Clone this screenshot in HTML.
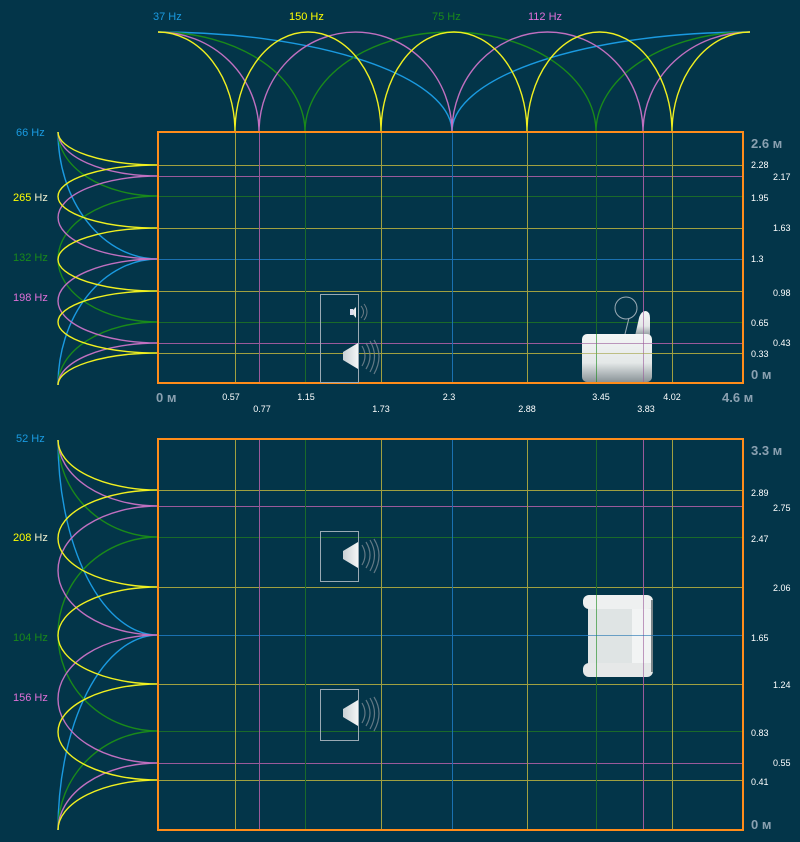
<!DOCTYPE html>
<html><head><meta charset="utf-8"><style>
html,body{margin:0;padding:0;background:#033549;}
svg{display:block}
text{font-family:"Liberation Sans",sans-serif;}
</style></head><body>
<svg width="800" height="842" viewBox="0 0 800 842" xmlns="http://www.w3.org/2000/svg">
<rect width="800" height="842" fill="#033549"/>
<defs>
<linearGradient id="cg" x1="0" y1="0" x2="0" y2="1"><stop offset="0" stop-color="#f4f6f6"/><stop offset="0.6" stop-color="#e4e8e8"/><stop offset="1" stop-color="#8a9498"/></linearGradient>
<linearGradient id="sg" x1="0" y1="0" x2="1" y2="0"><stop offset="0" stop-color="#c8d0d4"/><stop offset="1" stop-color="#f4f6f6"/></linearGradient>
</defs>

<!-- top arcs -->
<g fill="none" stroke-width="1.4">
<path stroke="#1a9ae0" d="M158 32 A294 100 0 0 1 452 132 A298 100 0 0 1 750 32"/>
<path stroke="#1a8a1a" d="M158 32 A147 100 0 0 1 305 132 A145.5 100 0 0 1 596 132 A154 100 0 0 1 750 32"/>
<path stroke="#c070c0" d="M158 32 A101 100 0 0 1 259 132 A96.5 100 0 0 1 452 132 A95.5 100 0 0 1 643 132 A107 100 0 0 1 750 32"/>
<path stroke="#f0f020" d="M158 32 A77 100 0 0 1 235 132 A73 100 0 0 1 381 132 A73 100 0 0 1 527 132 A72.5 100 0 0 1 672 132 A78 100 0 0 1 750 32"/>
</g>
<g font-size="11">
<text x="153" y="20" fill="#1a9ae0">37 Hz</text>
<text x="289" y="20" fill="#ffff00">150 Hz</text>
<text x="432" y="20" fill="#1a8a1a">75 Hz</text>
<text x="528" y="20" fill="#e070d8">112 Hz</text>
</g>

<!-- left top curves -->
<g fill="none" stroke-width="1.4">
<path stroke="#1a9ae0" d="M58 132 A100 127 0 0 0 158 259 A100 126 0 0 0 58 385"/>
<path stroke="#1a8a1a" d="M58 132 A100 64 0 0 0 158 196 A100 63 0 0 0 158 322 A100 63 0 0 0 58 385"/>
<path stroke="#c070c0" d="M58 132 A100 44 0 0 0 158 176 A100 41.5 0 0 0 158 259 A100 42 0 0 0 158 343 A100 42 0 0 0 58 385"/>
<path stroke="#f0f020" d="M58 132 A100 33 0 0 0 158 165 A100 31.5 0 0 0 158 228 A100 31.5 0 0 0 158 291 A100 31 0 0 0 158 353 A100 32 0 0 0 58 385"/>
</g>
<g font-size="11">
<text x="16" y="136" fill="#1a9ae0">66 Hz</text>
<text x="13" y="201" fill="#ffff00">265 <tspan fill="#f0f0d0">Hz</tspan></text>
<text x="13" y="261" fill="#1a8a1a">132 Hz</text>
<text x="13" y="301" fill="#e070d8">198 Hz</text>
</g>

<!-- left bottom curves -->
<g fill="none" stroke-width="1.4">
<path stroke="#1a9ae0" d="M58 440 A100 195 0 0 0 158 635 A100 195 0 0 0 58 830"/>
<path stroke="#1a8a1a" d="M58 440 A100 97 0 0 0 158 537 A100 97 0 0 0 158 731 A100 99 0 0 0 58 830"/>
<path stroke="#c070c0" d="M58 440 A100 66 0 0 0 158 506 A100 64.5 0 0 0 158 635 A100 64 0 0 0 158 763 A100 67 0 0 0 58 830"/>
<path stroke="#f0f020" d="M58 440 A100 50 0 0 0 158 490 A100 48.5 0 0 0 158 587 A100 48.5 0 0 0 158 684 A100 48 0 0 0 158 780 A100 50 0 0 0 58 830"/>
</g>
<g font-size="11">
<text x="16" y="442" fill="#1a9ae0">52 Hz</text>
<text x="13" y="541" fill="#ffff00">208 <tspan fill="#f0f0d0">Hz</tspan></text>
<text x="13" y="641" fill="#1a8a1a">104 Hz</text>
<text x="13" y="701" fill="#e070d8">156 Hz</text>
</g>

<!-- grid lines top panel -->
<g stroke-width="1">
<line x1="158" x2="743" y1="165.5" y2="165.5" stroke="#a0a040"/>
<line x1="158" x2="743" y1="176.5" y2="176.5" stroke="#9a5a9a"/>
<line x1="158" x2="743" y1="196.5" y2="196.5" stroke="#1a6a2a"/>
<line x1="158" x2="743" y1="228.5" y2="228.5" stroke="#a0a040"/>
<line x1="158" x2="743" y1="259.5" y2="259.5" stroke="#1a70b0"/>
<line x1="158" x2="743" y1="291.5" y2="291.5" stroke="#a0a040"/>
<line x1="158" x2="743" y1="322.5" y2="322.5" stroke="#1a6a2a"/>
<line x1="158" x2="743" y1="343.5" y2="343.5" stroke="#9a5a9a"/>
<line x1="158" x2="743" y1="353.5" y2="353.5" stroke="#a0a040"/>
</g>
<g stroke-width="1">
<line x1="158" x2="743" y1="490.5" y2="490.5" stroke="#a0a040"/>
<line x1="158" x2="743" y1="506.5" y2="506.5" stroke="#9a5a9a"/>
<line x1="158" x2="743" y1="537.5" y2="537.5" stroke="#1a6a2a"/>
<line x1="158" x2="743" y1="587.5" y2="587.5" stroke="#a0a040"/>
<line x1="158" x2="743" y1="635.5" y2="635.5" stroke="#1a70b0"/>
<line x1="158" x2="743" y1="684.5" y2="684.5" stroke="#a0a040"/>
<line x1="158" x2="743" y1="731.5" y2="731.5" stroke="#1a6a2a"/>
<line x1="158" x2="743" y1="763.5" y2="763.5" stroke="#9a5a9a"/>
<line x1="158" x2="743" y1="780.5" y2="780.5" stroke="#a0a040"/>
</g>
<!-- vertical lines -->
<g stroke-width="1">
<g id="vl">
<line x1="235.5" x2="235.5" y1="132" y2="383" stroke="#a0a040"/>
<line x1="259.5" x2="259.5" y1="132" y2="383" stroke="#9a5a9a"/>
<line x1="305.5" x2="305.5" y1="132" y2="383" stroke="#1a6a2a"/>
<line x1="381.5" x2="381.5" y1="132" y2="383" stroke="#a0a040"/>
<line x1="452.5" x2="452.5" y1="132" y2="383" stroke="#1a70b0"/>
<line x1="527.5" x2="527.5" y1="132" y2="383" stroke="#a0a040"/>
<line x1="596.5" x2="596.5" y1="132" y2="383" stroke="#1a6a2a"/>
<line x1="643.5" x2="643.5" y1="132" y2="383" stroke="#9a5a9a"/>
<line x1="672.5" x2="672.5" y1="132" y2="383" stroke="#a0a040"/>
</g>
<line x1="235.5" x2="235.5" y1="440" y2="830" stroke="#a0a040"/>
<line x1="259.5" x2="259.5" y1="440" y2="830" stroke="#9a5a9a"/>
<line x1="305.5" x2="305.5" y1="440" y2="830" stroke="#1a6a2a"/>
<line x1="381.5" x2="381.5" y1="440" y2="830" stroke="#a0a040"/>
<line x1="452.5" x2="452.5" y1="440" y2="830" stroke="#1a70b0"/>
<line x1="527.5" x2="527.5" y1="440" y2="830" stroke="#a0a040"/>
<line x1="596.5" x2="596.5" y1="440" y2="830" stroke="#1a6a2a"/>
<line x1="643.5" x2="643.5" y1="440" y2="830" stroke="#9a5a9a"/>
<line x1="672.5" x2="672.5" y1="440" y2="830" stroke="#a0a040"/>
</g>

<!-- panels -->
<rect x="158" y="132" width="585" height="251" fill="none" stroke="#ff8c1a" stroke-width="2"/>
<rect x="158" y="439" width="585" height="391" fill="none" stroke="#ff8c1a" stroke-width="2"/>

<!-- speakers top -->
<rect x="320.5" y="294.5" width="38" height="88" fill="none" stroke="#9aaab4" stroke-width="1"/>
<polygon points="351,312 356,307 356,318" fill="url(#sg)"/>
<rect x="350" y="309" width="3" height="6" fill="#dde"/>
<path d="M361 306 Q366 312 361 318 M364 304 Q370 312 364 320" stroke="#6a7a84" fill="none" stroke-width="1"/>
<polygon points="343,352 358,343 358,369 343,360" fill="url(#sg)"/>
<path d="M362 346 Q368 356 362 366 M366 343 Q374 356 366 369 M370 341 Q379 356 370 372 M374 340 Q384 356 374 374" stroke="#7a8a94" fill="none" stroke-width="1.2" opacity="0.8"/>

<!-- speakers bottom -->
<rect x="320.5" y="531.5" width="38" height="50" fill="none" stroke="#9aaab4" stroke-width="1"/>
<polygon points="343,551 358,542 358,568 343,559" fill="url(#sg)"/>
<path d="M362 545 Q368 555 362 565 M366 542 Q374 555 366 568 M370 540 Q379 555 370 571 M374 539 Q384 555 374 573" stroke="#7a8a94" fill="none" stroke-width="1.2" opacity="0.8"/>
<rect x="320.5" y="689.5" width="38" height="51" fill="none" stroke="#9aaab4" stroke-width="1"/>
<polygon points="343,709 358,700 358,726 343,717" fill="url(#sg)"/>
<path d="M362 703 Q368 713 362 723 M366 700 Q374 713 366 726 M370 698 Q379 713 370 729 M374 697 Q384 713 374 731" stroke="#7a8a94" fill="none" stroke-width="1.2" opacity="0.8"/>

<!-- chair top (side) -->
<circle cx="626" cy="308" r="11" fill="none" stroke="#9aaab4" stroke-width="1"/>
<line x1="629" y1="318" x2="625" y2="334" stroke="#9aaab4"/>
<path d="M635 336 L639 318 Q641 311 646 311 Q650 312 650 318 L650 336 Z" fill="url(#cg)"/>
<rect x="582" y="334" width="70" height="48" rx="5" fill="url(#cg)"/>
<line x1="596.5" x2="596.5" y1="334" y2="382" stroke="#1a8a1a" opacity="0.6"/>
<line x1="643.5" x2="643.5" y1="312" y2="382" stroke="#9a5a9a" opacity="0.6"/>
<line x1="582" x2="652" y1="343.5" y2="343.5" stroke="#9a5a9a" opacity="0.6"/>
<line x1="582" x2="652" y1="353.5" y2="353.5" stroke="#a0a040" opacity="0.6"/>

<!-- chair bottom (top view) -->
<rect x="588" y="600" width="64" height="72" rx="4" fill="#e2e6e6"/>
<rect x="583" y="595" width="70" height="14" rx="6" fill="#eef0f0"/>
<rect x="583" y="663" width="70" height="14" rx="6" fill="#e6e8e8"/>
<rect x="597" y="609" width="35" height="54" fill="#dfe4e4"/>
<rect x="632" y="609" width="20" height="54" fill="#f2f4f4"/>
<line x1="652" x2="652" y1="600" y2="672" stroke="#7a8488" stroke-width="2"/>
<line x1="596.5" x2="596.5" y1="595" y2="677" stroke="#1a8a1a" opacity="0.6"/>
<line x1="643.5" x2="643.5" y1="595" y2="677" stroke="#9a5a9a" opacity="0.6"/>
<line x1="583" x2="653" y1="635.5" y2="635.5" stroke="#1a70b0" opacity="0.6"/>

<!-- right labels -->
<g font-size="9" fill="#ffffff">
<text x="751" y="168">2.28</text>
<text x="773" y="180">2.17</text>
<text x="751" y="201">1.95</text>
<text x="773" y="231">1.63</text>
<text x="751" y="262">1.3</text>
<text x="773" y="296">0.98</text>
<text x="751" y="326">0.65</text>
<text x="773" y="346">0.43</text>
<text x="751" y="357">0.33</text>
<text x="751" y="496">2.89</text>
<text x="773" y="511">2.75</text>
<text x="751" y="542">2.47</text>
<text x="773" y="591">2.06</text>
<text x="751" y="641">1.65</text>
<text x="773" y="688">1.24</text>
<text x="751" y="736">0.83</text>
<text x="773" y="766">0.55</text>
<text x="751" y="785">0.41</text>
<g text-anchor="middle">
<text x="231" y="400">0.57</text>
<text x="262" y="412">0.77</text>
<text x="306" y="400">1.15</text>
<text x="381" y="412">1.73</text>
<text x="449" y="400">2.3</text>
<text x="527" y="412">2.88</text>
<text x="601" y="400">3.45</text>
<text x="646" y="412">3.83</text>
<text x="672" y="400">4.02</text>
</g>
</g>
<g font-size="13" font-weight="bold" fill="#8aa0b0">
<text x="751" y="148">2.6 м</text>
<text x="751" y="379">0 м</text>
<text x="751" y="455">3.3 м</text>
<text x="751" y="829">0 м</text>
<text x="156" y="402">0 м</text>
<text x="722" y="402">4.6 м</text>
</g>
</svg>
</body></html>
